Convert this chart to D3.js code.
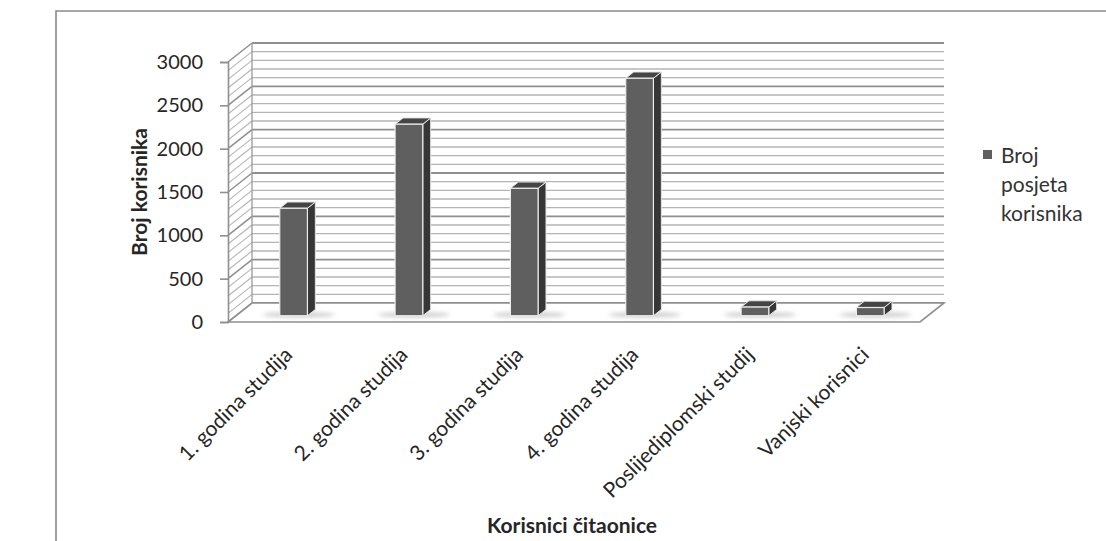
<!DOCTYPE html>
<html>
<head>
<meta charset="utf-8">
<script src="https://cdn.jsdelivr.net/npm/d3@7"></script>
<style>
  html, body { margin: 0; padding: 0; background: #fff; }
  svg { display: block; }
  text { font-family: Lato, "Noto Sans", sans-serif; fill: #262626; }
</style>
</head>
<body>
<svg id="chart" width="1106" height="541"></svg>
<script>
// ---- data ----
const categories = ["1. godina studija", "2. godina studija", "3. godina studija",
                    "4. godina studija", "Poslijediplomski studij", "Vanjski korisnici"];
const values = [1240, 2210, 1470, 2740, 100, 95];
const seriesName = ["Broj", "posjeta", "korisnika"];
const yTicks = [0, 500, 1000, 1500, 2000, 2500, 3000];
const yTitle = "Broj korisnika";
const xTitle = "Korisnici čitaonice";

// ---- layout ----
const svg = d3.select("#chart");
const W = 1106, H = 541;
const DX = 24, DY = 19;           // depth offset of back wall
const plotL = 228, plotR = 920, plotB = 322, plotT = 62;

const x = d3.scaleBand().domain(categories).range([plotL, plotR]).padding(0);
const y = d3.scaleLinear().domain([0, 3000]).range([plotB, plotT]);
const gridVals = d3.range(0, 3001, 100);

const defs = svg.append("defs");
defs.append("filter").attr("id", "blur").attr("x", "-50%").attr("y", "-200%")
  .attr("width", "200%").attr("height", "500%")
  .append("feGaussianBlur").attr("stdDeviation", 2.2);

// chart border
svg.append("path")
  .attr("d", `M56,${H} V11 H${W}`)
  .attr("fill", "none").attr("stroke", "#8a8a8a").attr("stroke-width", 1.6);

const g = svg.append("g");

// back wall gridlines
g.selectAll("line.back").data(gridVals).join("line")
  .attr("class", "back")
  .attr("x1", plotL + DX).attr("x2", plotR + DX)
  .attr("y1", d => y(d) - DY).attr("y2", d => y(d) - DY)
  .attr("stroke", d => d % 500 === 0 ? "#8f8f8f" : "#b4b4b4")
  .attr("stroke-width", d => d % 500 === 0 ? 1.8 : 1.3);

// side wall diagonals
g.selectAll("line.side").data(gridVals).join("line")
  .attr("class", "side")
  .attr("x1", plotL).attr("x2", plotL + DX)
  .attr("y1", d => y(d)).attr("y2", d => y(d) - DY)
  .attr("stroke", d => d % 500 === 0 ? "#8f8f8f" : "#b4b4b4")
  .attr("stroke-width", d => d % 500 === 0 ? 1.5 : 1.1);

// back wall left edge
g.append("line")
  .attr("x1", plotL + DX).attr("x2", plotL + DX)
  .attr("y1", y(0) - DY).attr("y2", y(3000) - DY)
  .attr("stroke", "#9a9a9a").attr("stroke-width", 1.3);

// floor
g.append("path")
  .attr("d", `M${plotL},${y(0)} L${plotR},${y(0)} L${plotR + DX},${y(0) - DY} L${plotL + DX},${y(0) - DY} Z`)
  .attr("fill", "#ffffff").attr("stroke", "#8f8f8f").attr("stroke-width", 1.6);

// bars
const t0 = 0.33, t1 = 0.66;
const bw = x.bandwidth() * 0.24;
const ddx = (t1 - t0) * DX, ddy = (t1 - t0) * DY;
const bars = categories.map((c, i) => {
  const xc = x(c) + x.bandwidth() / 2 + t0 * DX;
  const x0 = xc - bw / 2, x1 = xc + bw / 2;
  const yb = y(0) - t0 * DY, yt = y(values[i]) - t0 * DY;
  return { x0, x1, yb, yt };
});

// shadows
g.selectAll("ellipse.shadow").data(bars).join("ellipse")
  .attr("cx", d => (d.x0 + d.x1) / 2 + 5)
  .attr("cy", d => d.yb - 1)
  .attr("rx", bw * 1.3).attr("ry", 2.4)
  .attr("fill", "#a8a8a8").attr("opacity", 0.6)
  .attr("filter", "url(#blur)");

const bg = g.selectAll("g.bar").data(bars).join("g").attr("class", "bar");
bg.append("path") // side
  .attr("d", d => `M${d.x1},${d.yb} L${d.x1},${d.yt} L${d.x1 + ddx},${d.yt - ddy} L${d.x1 + ddx},${d.yb - ddy} Z`)
  .attr("fill", "#363636").attr("stroke", "#e6e6e6").attr("stroke-width", 1).attr("stroke-linejoin", "round");
bg.append("path") // top
  .attr("d", d => `M${d.x0},${d.yt} L${d.x1},${d.yt} L${d.x1 + ddx},${d.yt - ddy} L${d.x0 + ddx},${d.yt - ddy} Z`)
  .attr("fill", "#454545").attr("stroke", "#e6e6e6").attr("stroke-width", 1).attr("stroke-linejoin", "round");
bg.append("rect") // front
  .attr("x", d => d.x0).attr("y", d => d.yt)
  .attr("width", bw).attr("height", d => d.yb - d.yt)
  .attr("fill", "#5f5f5f").attr("stroke", "#ececec").attr("stroke-width", 1.2);

// y axis
const yAxis = d3.axisLeft(y).tickValues(yTicks).tickFormat(d3.format("d"))
  .tickSize(8).tickPadding(17);
const ya = svg.append("g").attr("transform", `translate(${plotL},0)`).call(yAxis);
ya.select(".domain").attr("stroke", "#8f8f8f").attr("stroke-width", 1.6);
ya.selectAll(".tick line").attr("stroke", "#8f8f8f").attr("stroke-width", 1.6);
ya.selectAll(".tick text")
  .style("font-family", "Lato, 'Noto Sans', sans-serif")
  .style("font-size", "20px").style("fill", "#262626");

// category labels
svg.selectAll("text.cat").data(categories).join("text")
  .attr("class", "cat")
  .attr("text-anchor", "end")
  .attr("transform", c => `translate(${x(c) + x.bandwidth() / 2 + 8},356) rotate(-45)`)
  .style("font-size", "21px")
  .text(c => c);

// axis titles
svg.append("text")
  .attr("transform", "translate(147,192) rotate(-90)")
  .attr("text-anchor", "middle")
  .style("font-size", "21px").style("font-weight", "bold")
  .text(yTitle);

svg.append("text")
  .attr("x", 572).attr("y", 533)
  .attr("text-anchor", "middle")
  .style("font-size", "21px").style("font-weight", "bold")
  .text(xTitle);

// legend
const lg = svg.append("g");
lg.append("rect").attr("x", 983).attr("y", 150).attr("width", 9).attr("height", 9).attr("fill", "#5f5f5f");
lg.selectAll("text").data(seriesName).join("text")
  .attr("x", 1001).attr("y", (d, i) => 163 + i * 29)
  .style("font-size", "21px").style("fill", "#333")
  .text(d => d);
</script>
</body>
</html>
